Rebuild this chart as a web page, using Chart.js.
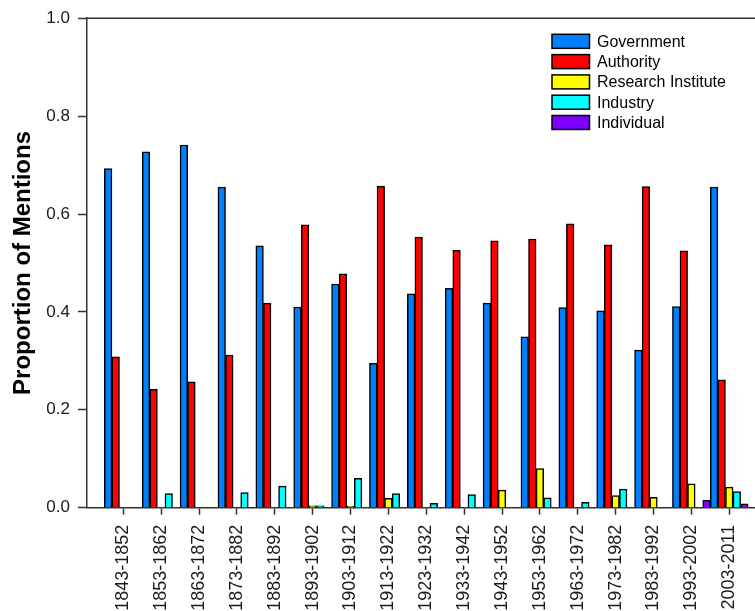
<!DOCTYPE html>
<html>
<head>
<meta charset="utf-8">
<script src="https://cdn.jsdelivr.net/npm/chart.js@4.4.1/dist/chart.umd.min.js"></script>
<style>
  html, body { margin: 0; padding: 0; background: #fff; }
  #wrap { width: 755px; height: 611px; }
</style>
</head>
<body>
<div id="wrap"><canvas id="myChart" width="755" height="611"></canvas></div>
<script>
// decades on the x axis
const categories = ['1843-1852', '1853-1862', '1863-1872', '1873-1882', '1883-1892', '1893-1902',
    '1903-1912', '1913-1922', '1923-1932', '1933-1942', '1943-1952', '1953-1962',
    '1963-1972', '1973-1982', '1983-1992', '1993-2002', '2003-2011'];

// proportion of mentions per source (null = no bar)
const government = [0.693, 0.727, 0.741, 0.655, 0.535, 0.410, 0.457, 0.295, 0.437, 0.448, 0.418, 0.349, 0.409, 0.402, 0.322, 0.411, 0.655];
const authority  = [0.308, 0.242, 0.257, 0.312, 0.418, 0.578, 0.478, 0.657, 0.553, 0.526, 0.545, 0.549, 0.580, 0.537, 0.656, 0.525, 0.261];
const research   = [null, null, null, null, null, 0.004, 0.003, 0.019, null, null, 0.036, 0.080, null, 0.025, 0.021, 0.049, 0.042];
const industry   = [null, 0.029, null, 0.031, 0.044, 0.004, 0.060, 0.029, 0.009, 0.027, null, 0.020, 0.011, 0.038, null, null, 0.033];
const individual = [null, null, null, null, null, null, null, null, null, null, null, null, null, null, null, 0.015, 0.008];

const yTicks = [0, 0.2, 0.4, 0.6, 0.8, 1.0];

const seriesNames = ['Government', 'Authority', 'Research Institute', 'Industry', 'Individual'];
const seriesColors = ['#0080FF', '#FF0000', '#FFFF00', '#00FFFF', '#8000FF'];
const seriesData = [government, authority, research, industry, individual];

const axisColor = '#333333';
const fontFamily = "'Liberation Sans', Arial, sans-serif";

function toPoints(arr) {
    return arr.map(function(v, i) { return { x: i, y: v }; });
}

// top frame line + legend inside the plot
const framePlugin = {
    id: 'frame',
    afterDraw: function(chart) {
        const c = chart.ctx;
        const a = chart.chartArea;
        c.save();
        c.strokeStyle = axisColor;
        c.lineWidth = 1.5;
        c.beginPath();
        c.moveTo(a.left, a.top);
        c.lineTo(a.right, a.top);
        c.stroke();

        // legend
        c.font = '16px ' + fontFamily;
        c.textBaseline = 'middle';
        c.textAlign = 'left';
        chart.data.datasets.forEach(function(ds, i) {
            const yc = 41.3 + i * 20.3;
            c.fillStyle = ds.backgroundColor;
            c.fillRect(552, yc - 7, 37.5, 14);
            c.strokeStyle = '#000';
            c.lineWidth = 1.5;
            c.strokeRect(552, yc - 7, 37.5, 14);
            c.fillStyle = '#000';
            c.fillText(ds.label, 597, yc + 1);
        });
        c.restore();
    }
};

const ctx = document.getElementById('myChart').getContext('2d');
const myChart = new Chart(ctx, {
    type: 'bar',
    data: {
        datasets: seriesNames.map(function(name, i) {
            return {
                label: name,
                data: toPoints(seriesData[i]),
                backgroundColor: seriesColors[i],
                borderColor: '#000000',
                borderWidth: 1.5,
                barPercentage: 1.0,
                categoryPercentage: 1.0
            };
        })
    },
    options: {
        responsive: false,
        animation: false,
        devicePixelRatio: 1,
        layout: {
            padding: { top: 17.7, left: 0, right: 0, bottom: 0 }
        },
        plugins: {
            legend: { display: false },
            tooltip: { enabled: false }
        },
        scales: {
            x: {
                type: 'linear',
                offset: false,
                min: -0.958,
                max: 16.68,
                afterBuildTicks: function(scale) {
                    scale.ticks = categories.map(function(c, i) { return { value: i }; });
                },
                afterFit: function(scale) {
                    scale.height = 103.3;
                    scale.paddingLeft = 0;
                    scale.paddingRight = 0;
                },
                grid: {
                    offset: false,
                    drawOnChartArea: false,
                    tickLength: 7,
                    tickColor: axisColor,
                    tickWidth: 1.5
                },
                border: { color: axisColor, width: 1.5 },
                ticks: {
                    autoSkip: false,
                    minRotation: 90,
                    maxRotation: 90,
                    padding: 10,
                    color: '#1a1a1a',
                    font: { family: fontFamily, size: 18 },
                    callback: function(value) { return categories[value]; }
                }
            },
            y: {
                min: 0,
                max: 1.0,
                afterBuildTicks: function(scale) {
                    scale.ticks = yTicks.map(function(v) { return { value: v }; });
                },
                afterFit: function(scale) { scale.width = 87; },
                grid: {
                    drawOnChartArea: false,
                    tickLength: 9,
                    tickColor: axisColor,
                    tickWidth: 1.5
                },
                border: { color: axisColor, width: 1.5 },
                ticks: {
                    padding: 8,
                    color: '#1a1a1a',
                    font: { family: fontFamily, size: 17 },
                    callback: function(value) { return value.toFixed(1); }
                },
                title: {
                    display: true,
                    text: 'Proportion of Mentions',
                    color: '#000',
                    padding: { top: 9 },
                    font: { family: fontFamily, size: 24, weight: 'bold' }
                }
            }
        }
    },
    plugins: [framePlugin]
});
</script>
</body>
</html>
